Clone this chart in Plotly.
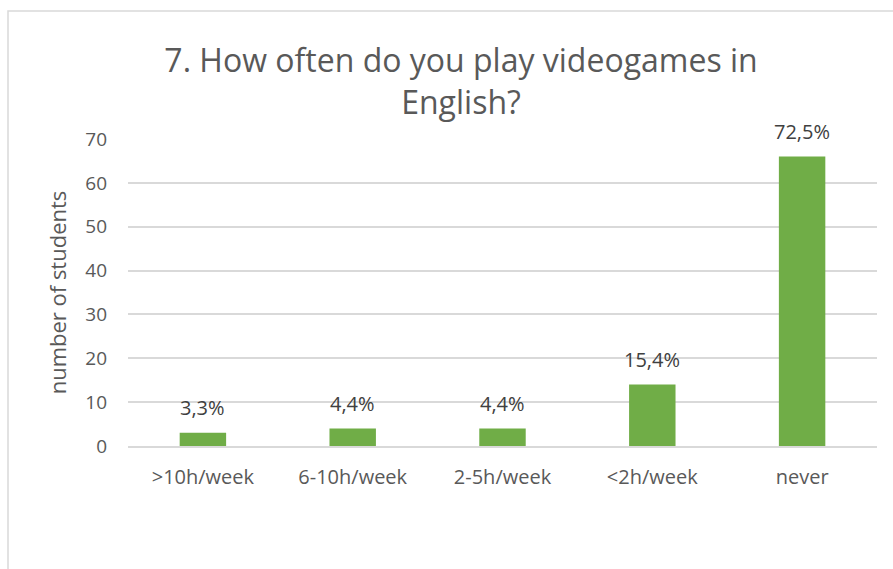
import plotly.graph_objects as go

# Survey answers: how often students play videogames in English
categories = [">10h/week", "6-10h/week", "2-5h/week", "<2h/week", "never"]
students = [3, 4, 4, 14, 66]
y_ticks = [0, 10, 20, 30, 40, 50, 60, 70]

total = sum(students)
pct_labels = [f"{v / total * 100:.1f}%".replace(".", ",") for v in students]

W, H = 893, 569
L, R, T, B = 128, 16, 139, 123
plot_w = W - L - R
plot_h = H - T - B

text_color = "#595959"
font_family = "Open Sans, Liberation Sans, sans-serif"

fig = go.Figure(
    go.Bar(
        x=categories,
        y=students,
        marker=dict(color="#70AD47", line=dict(width=0)),
        width=0.31,
        hoverinfo="x+y",
    )
)

# percentage labels above each bar
for cat, val, lab in zip(categories, students, pct_labels):
    fig.add_annotation(
        x=cat, y=val, text=lab, showarrow=False, yanchor="middle", yshift=25,
        font=dict(size=20, color="#404040", family=font_family),
    )

# outer chart frame (left and top edges visible, rest runs off the page)
px_x = lambda p: (p - L) / plot_w
px_y = lambda p: (H - B - p) / plot_h
fig.add_shape(
    type="rect", xref="paper", yref="paper",
    x0=px_x(8), x1=px_x(W + 20), y0=px_y(H + 20), y1=px_y(11),
    line=dict(color="#d9d9d9", width=1.5), fillcolor="rgba(0,0,0,0)", layer="below",
)

fig.update_layout(
    width=W, height=H,
    margin=dict(l=L, r=R, t=T, b=B),
    paper_bgcolor="white", plot_bgcolor="white",
    showlegend=False,
    title=dict(
        text="7. How often do you play videogames in<br>English?",
        x=461 / W, xanchor="center",
        y=1 - 72 / H, yanchor="middle",
        font=dict(size=32, color=text_color, family=font_family),
    ),
    font=dict(family=font_family, color=text_color),
)
fig.update_xaxes(
    showgrid=False, showline=True, linecolor="#d9d9d9", linewidth=1.5,
    ticks="", tickfont=dict(size=20, color=text_color), ticklabelstandoff=12,
)
fig.update_yaxes(
    range=[0, 70], tickvals=y_ticks, showgrid=True, gridcolor="#d9d9d9", gridwidth=1.5,
    zeroline=False, showline=False, ticks="",
    tickfont=dict(size=19, color=text_color), ticklabelstandoff=20,
    title=dict(text="number of students", font=dict(size=22, color=text_color), standoff=12),
)

fig.write_html("out.html")
